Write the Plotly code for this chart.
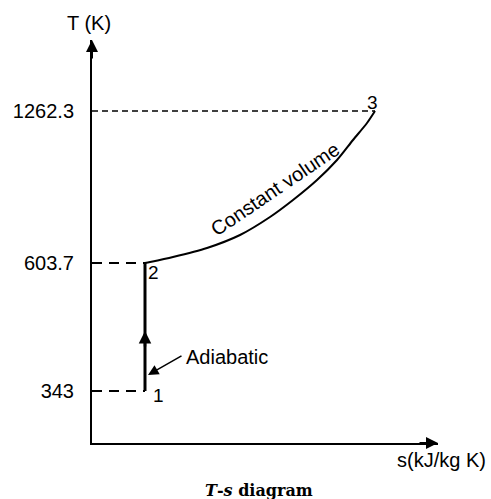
import plotly.graph_objects as go

# Tick labels on the temperature axis and their schematic positions
T_labels = ["1262.3", "603.7", "343"]
T_pos = [332, 180, 52]

# State points 1, 2, 3 (schematic s, T positions)
state_names = ["1", "2", "3"]
state_s = [53, 53, 283]
state_T = [52, 180, 332]

# Constant-volume curve 2 -> 3
curve_s = [53, 58, 81, 115, 148, 178, 201, 225, 245, 261, 275, 283]
curve_T = [180, 181, 186, 195, 208, 226, 243, 263, 283, 303, 320, 332]

X_MAX = 346
Y_MAX = 403
FONT = "Liberation Sans, Arial, sans-serif"

fig = go.Figure()

# dashed guide lines to T axis
fig.add_trace(go.Scatter(x=[0, state_s[0]], y=[state_T[0], state_T[0]], mode="lines",
                         line=dict(color="black", width=2, dash="10px,7px"), hoverinfo="skip"))
fig.add_trace(go.Scatter(x=[0, state_s[1]], y=[state_T[1], state_T[1]], mode="lines",
                         line=dict(color="black", width=2, dash="10px,7px"), hoverinfo="skip"))
fig.add_trace(go.Scatter(x=[0, state_s[2]], y=[state_T[2], state_T[2]], mode="lines",
                         line=dict(color="black", width=1.5, dash="6px,4px"), hoverinfo="skip"))

# adiabatic process 1 -> 2
fig.add_trace(go.Scatter(x=[state_s[0], state_s[1]], y=[state_T[0], state_T[1]], mode="lines",
                         line=dict(color="black", width=3), hoverinfo="skip"))
# constant volume process 2 -> 3
fig.add_trace(go.Scatter(x=curve_s, y=curve_T, mode="lines",
                         line=dict(color="black", width=2, shape="spline", smoothing=0.8), hoverinfo="skip"))

ann = []
# axis arrowheads
ann.append(dict(x=0, y=Y_MAX, ax=0, ay=Y_MAX - 20, xref="x", yref="y", axref="x", ayref="y",
                text="", showarrow=True, arrowhead=2, arrowsize=1.2, arrowwidth=2, arrowcolor="black", standoff=0))
ann.append(dict(x=X_MAX, y=0, ax=X_MAX - 20, ay=0, xref="x", yref="y", axref="x", ayref="y",
                text="", showarrow=True, arrowhead=2, arrowsize=1.2, arrowwidth=2, arrowcolor="black", standoff=0))
# direction arrow on 1 -> 2
ann.append(dict(x=state_s[0], y=112, ax=state_s[0], ay=95, xref="x", yref="y", axref="x", ayref="y",
                text="", showarrow=True, arrowhead=2, arrowsize=1.0, arrowwidth=2.5, arrowcolor="black", standoff=0))
# Adiabatic label arrow
ann.append(dict(x=56, y=68, ax=91, ay=88, xref="x", yref="y", axref="x", ayref="y",
                text="", showarrow=True, arrowhead=2, arrowsize=1.4, arrowwidth=1.5, arrowcolor="black", standoff=0))
ann.append(dict(x=92, y=86, xref="x", yref="y", text="Adiabatic", showarrow=False, xanchor="left",
                font=dict(size=20, color="black", family=FONT)))
# state labels
lab_dx = [13, 8, -3]
lab_dy = [-4, -9, 9]
for n, s, t, dx, dy in zip(state_names, state_s, state_T, lab_dx, lab_dy):
    ann.append(dict(x=s + dx, y=t + dy, xref="x", yref="y", text=n, showarrow=False,
                    font=dict(size=19, color="black", family=FONT)))
# curve label
ann.append(dict(x=183, y=254, xref="x", yref="y", text="Constant volume", showarrow=False, textangle=-34,
                font=dict(size=20, color="black", family=FONT)))
# axis titles (paper coordinates, outside the plot area)
ann.append(dict(x=-3 / X_MAX, y=420 / Y_MAX, xref="paper", yref="paper", text="T (K)", showarrow=False,
                xanchor="center", yanchor="middle",
                font=dict(size=20, color="black", family=FONT)))
ann.append(dict(x=396 / X_MAX, y=-17 / Y_MAX, xref="paper", yref="paper", text="s(kJ/kg K)",
                showarrow=False, xanchor="right", yanchor="middle",
                font=dict(size=20, color="black", family=FONT)))
# caption
ann.append(dict(x=167 / X_MAX, y=-47 / Y_MAX, xref="paper", yref="paper",
                text="<b><i>T</i>-<i>s</i> diagram</b>", showarrow=False,
                xanchor="center", yanchor="middle",
                font=dict(size=16, color="black", family="DejaVu Serif, Liberation Serif, serif")))

fig.update_layout(
    width=491, height=499,
    margin=dict(l=92, r=53, t=40, b=56),
    paper_bgcolor="white", plot_bgcolor="white",
    showlegend=False,
    annotations=ann,
    xaxis=dict(range=[0, X_MAX], showgrid=False, zeroline=False, showticklabels=False, ticks="",
               showline=True, linecolor="black", linewidth=2),
    yaxis=dict(range=[0, Y_MAX], showgrid=False, zeroline=False, tickvals=T_pos, ticktext=T_labels,
               ticks="", ticklabelstandoff=12,
               tickfont=dict(size=20, color="black", family=FONT),
               showline=True, linecolor="black", linewidth=2),
)

fig.write_html("out.html")
